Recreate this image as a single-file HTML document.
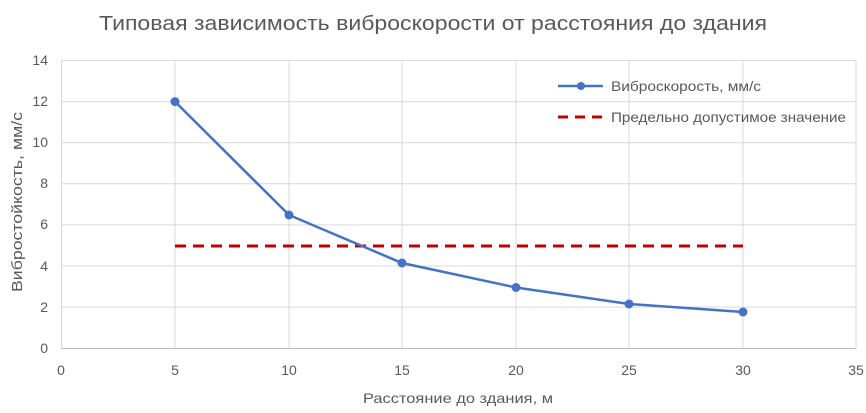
<!DOCTYPE html><html><head><meta charset="utf-8"><style>body{margin:0;background:#fff}svg{display:block}text{font-family:"Liberation Sans",sans-serif;fill:#595959}</style></head><body>
<svg width="866" height="413" viewBox="0 0 866 413">
<rect width="866" height="413" fill="#fff"/>
<text x="433" y="30" text-anchor="middle" font-size="20" textLength="668" lengthAdjust="spacingAndGlyphs">Типовая зависимость виброскорости от расстояния до здания</text>
<g stroke="#d9d9d9" stroke-width="1">
<line x1="61" y1="60.5" x2="856" y2="60.5"/><line x1="61" y1="101.6" x2="856" y2="101.6"/><line x1="61" y1="142.7" x2="856" y2="142.7"/><line x1="61" y1="183.8" x2="856" y2="183.8"/><line x1="61" y1="224.9" x2="856" y2="224.9"/><line x1="61" y1="266" x2="856" y2="266"/><line x1="61" y1="307.1" x2="856" y2="307.1"/>
<line x1="61.5" y1="60" x2="61.5" y2="349"/><line x1="175" y1="60" x2="175" y2="349"/><line x1="289" y1="60" x2="289" y2="349"/><line x1="402" y1="60" x2="402" y2="349"/><line x1="516" y1="60" x2="516" y2="349"/><line x1="629" y1="60" x2="629" y2="349"/><line x1="743" y1="60" x2="743" y2="349"/><line x1="856" y1="60" x2="856" y2="349"/>
</g>
<line x1="61" y1="348.5" x2="856" y2="348.5" stroke="#bfbfbf"/>
<g font-size="14" text-anchor="end">
<text x="48" y="65">14</text><text x="48" y="106">12</text><text x="48" y="147">10</text><text x="48" y="188">8</text><text x="48" y="229">6</text><text x="48" y="271">4</text><text x="48" y="312">2</text><text x="48" y="353">0</text></g>
<g font-size="14" text-anchor="middle">
<text x="61" y="375">0</text><text x="175" y="375">5</text><text x="289" y="375">10</text><text x="402" y="375">15</text><text x="516" y="375">20</text><text x="629" y="375">25</text><text x="743" y="375">30</text><text x="856" y="375">35</text></g>
<text x="458" y="403" font-size="14" text-anchor="middle" textLength="190" lengthAdjust="spacingAndGlyphs">Расстояние до здания, м</text>
<text transform="translate(22,202) rotate(-90)" font-size="15" text-anchor="middle" textLength="180" lengthAdjust="spacingAndGlyphs">Вибростойкость, мм/с</text>
<line x1="175" y1="246" x2="743" y2="246" stroke="#c00000" stroke-width="3" stroke-dasharray="11,7"/>
<polyline points="175,101.6 289,215 402,263 516,287.5 629,304 743,312" fill="none" stroke="#4472c4" stroke-width="2.5"/>
<g fill="#4472c4"><circle cx="175" cy="101.6" r="4.5"/><circle cx="289" cy="215" r="4.5"/><circle cx="402" cy="263" r="4.5"/><circle cx="516" cy="287.5" r="4.5"/><circle cx="629" cy="304" r="4.5"/><circle cx="743" cy="312" r="4.5"/></g>
<line x1="558" y1="86" x2="603" y2="86" stroke="#4472c4" stroke-width="2.5"/><circle cx="581" cy="86" r="4" fill="#4472c4"/>
<text x="611" y="91" font-size="14" textLength="150" lengthAdjust="spacingAndGlyphs">Виброскорость, мм/с</text>
<line x1="558" y1="117" x2="606" y2="117" stroke="#c00000" stroke-width="3" stroke-dasharray="10,7"/>
<text x="611" y="122" font-size="14" textLength="235" lengthAdjust="spacingAndGlyphs">Предельно допустимое значение</text>
</svg></body></html>
